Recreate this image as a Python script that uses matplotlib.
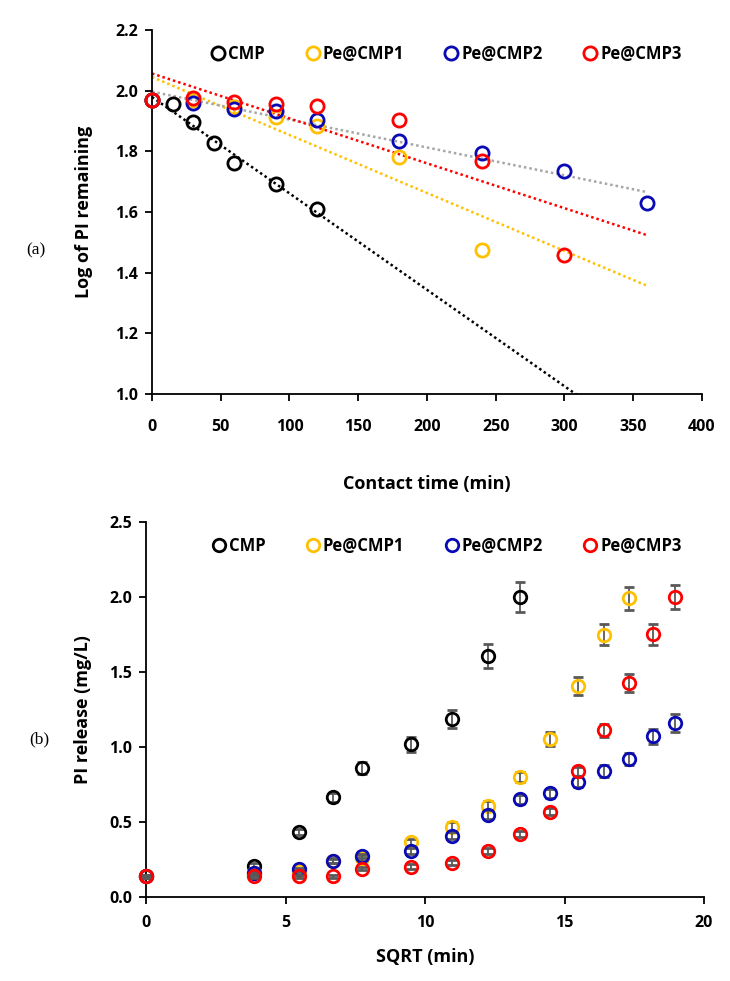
import numpy as np
import matplotlib.pyplot as plt

plt.rcParams['font.family'] = ['Open Sans', 'DejaVu Sans']
plt.rcParams['font.weight'] = 'bold'

labels = ['CMP', 'Pe@CMP1', 'Pe@CMP2', 'Pe@CMP3']
colors = ['black', '#FFC000', '#0A0AB4', '#FF0000']
trend_colors = ['black', '#FFC000', '#A6A6A6', '#FF0000']

# (a) log of PI remaining vs contact time
t_a = [
    [0, 15, 30, 45, 60, 90, 120],
    [0, 30, 60, 90, 120, 180, 240],
    [0, 30, 60, 90, 120, 180, 240, 300, 360],
    [0, 30, 60, 90, 120, 180, 240, 300],
]
log_a = [
    [1.970, 1.955, 1.896, 1.826, 1.760, 1.691, 1.611],
    [1.970, 1.970, 1.945, 1.913, 1.883, 1.782, 1.475],
    [1.970, 1.959, 1.939, 1.934, 1.904, 1.833, 1.795, 1.736, 1.629],
    [1.970, 1.974, 1.962, 1.956, 1.950, 1.904, 1.768, 1.457],
]

# (b) PI release vs sqrt(time)
sqrt_t = [0, 3.87, 5.48, 6.71, 7.75, 9.49, 10.95, 12.25, 13.42, 14.49, 15.49, 16.43, 17.32, 18.17, 18.97]
rel_cmp = [0.14, 0.21, 0.435, 0.665, 0.86, 1.02, 1.19, 1.605, 2.0]
err_cmp = [0.01, 0.02, 0.02, 0.03, 0.04, 0.05, 0.06, 0.08, 0.10]
rel_pe1 = [0.14, 0.16, 0.175, 0.24, 0.258, 0.365, 0.469, 0.608, 0.80, 1.052, 1.407, 1.75, 1.99]
err_pe1 = [0.01, 0.01, 0.01, 0.015, 0.02, 0.025, 0.03, 0.035, 0.035, 0.045, 0.057, 0.07, 0.078]
rel_pe2 = [0.14, 0.162, 0.184, 0.242, 0.273, 0.306, 0.409, 0.547, 0.651, 0.691, 0.766, 0.842, 0.922, 1.073, 1.158]
err_pe2 = [0.01, 0.01, 0.01, 0.015, 0.015, 0.02, 0.025, 0.03, 0.03, 0.03, 0.035, 0.04, 0.04, 0.05, 0.06]
rel_pe3 = [0.14, 0.14, 0.14, 0.14, 0.189, 0.202, 0.229, 0.307, 0.418, 0.569, 0.838, 1.111, 1.429, 1.751, 1.998]
err_pe3 = [0.01, 0.01, 0.01, 0.01, 0.01, 0.015, 0.015, 0.02, 0.02, 0.025, 0.03, 0.045, 0.06, 0.07, 0.08]
rel_b = [rel_cmp, rel_pe1, rel_pe2, rel_pe3]
err_b = [err_cmp, err_pe1, err_pe2, err_pe3]

fig = plt.figure(figsize=(7.3, 9.81), dpi=100)
ax1 = fig.add_axes([0.2082, 0.5984, 0.7534, 0.3711])
ax2 = fig.add_axes([0.2000, 0.0856, 0.7644, 0.3823])

def style(ax, pad):
    for s in ['top', 'right']:
        ax.spines[s].set_visible(False)
    for s in ['left', 'bottom']:
        ax.spines[s].set_linewidth(1.3)
    ax.tick_params(direction='out', length=5, width=1.3, labelsize=11.5)
    ax.tick_params(axis='x', pad=pad)
    ax.tick_params(axis='y', pad=5)
    for lab in ax.get_xticklabels() + ax.get_yticklabels():
        lab.set_fontweight('bold')

leg_kw = dict(loc='upper left', ncol=4, frameon=False, handlelength=0.5,
              handletextpad=0.35, columnspacing=2.6,
              prop={'weight': 'bold', 'size': 12})

# panel a
t_max = max(max(t) for t in t_a)
fit_x = np.array([0, t_max])
for t, y, tc in zip(t_a, log_a, trend_colors):
    k, b = np.polyfit(t, y, 1)
    ax1.plot(fit_x, k * fit_x + b, color=tc, lw=1.8, ls=(0, (1, 1.2)), zorder=1)
for t, y, c, lab in zip(t_a, log_a, colors, labels):
    ax1.plot(t, y, 'o', mfc='none', mec=c, mew=2, ms=9.5, label=lab, zorder=3, clip_on=False)
ax1.set_xlim(0, 400)
ax1.set_ylim(1.0, 2.2)
ax1.set_xticks(np.arange(0, 401, 50))
ax1.set_yticks(np.arange(1.0, 2.21, 0.2))
ax1.yaxis.set_major_formatter(plt.FormatStrFormatter('%.1f'))
ax1.set_xlabel('Contact time (min)', fontsize=13, fontweight='bold', labelpad=29)
ax1.set_ylabel('Log of PI remaining', fontsize=13, fontweight='bold', labelpad=16)
style(ax1, 13)
ax1.legend(bbox_to_anchor=(0.086, 1.0), **leg_kw)
fig.text(0.036, 1 - 250 / 981, '(a)', family='Liberation Serif', fontweight='normal',
         fontsize=12.5, va='center')

# panel b
for i, (y, e, c, lab) in enumerate(zip(rel_b, err_b, colors, labels)):
    x = sqrt_t[:len(y)]
    ax2.errorbar(x, y, yerr=e, fmt='o', mfc='none', mec=c, mew=2, ms=9,
                 ecolor='#595959', elinewidth=1.3, capsize=3.5, capthick=1.3,
                 label=lab, zorder=3 + i, clip_on=False)
ax2.set_xlim(0, 20)
ax2.set_ylim(0, 2.5)
ax2.set_xticks(np.arange(0, 21, 5))
ax2.set_yticks(np.arange(0, 2.51, 0.5))
ax2.yaxis.set_major_formatter(plt.FormatStrFormatter('%.1f'))
ax2.set_xlabel('SQRT (min)', fontsize=13, fontweight='bold', labelpad=12)
ax2.set_ylabel('PI release (mg/L)', fontsize=13, fontweight='bold', labelpad=12)
style(ax2, 8)
h, l = ax2.get_legend_handles_labels()
h = [hh[0] for hh in h]
ax2.legend(h, l, bbox_to_anchor=(0.096, 1.0), **leg_kw)
fig.text(0.04, 1 - 739 / 981, '(b)', family='Liberation Serif', fontweight='normal',
         fontsize=12.5, va='center')

fig.savefig('out.png', dpi=100)
